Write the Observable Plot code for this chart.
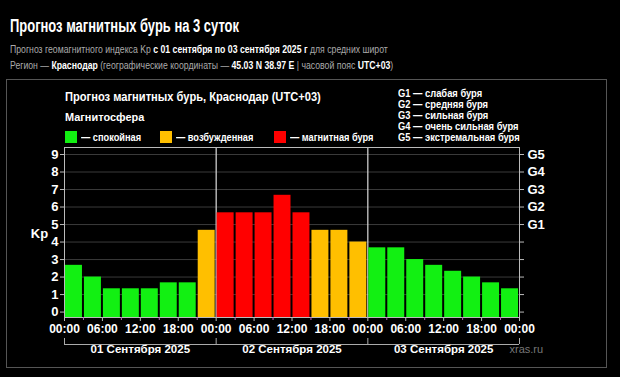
<!DOCTYPE html>
<html><head><meta charset="utf-8">
<script src="https://cdn.jsdelivr.net/npm/d3@7"></script>
<script src="https://cdn.jsdelivr.net/npm/@observablehq/plot@0.6"></script>
<style>
html,body{margin:0;padding:0;background:#000;width:620px;height:377px;overflow:hidden;}
#root{position:relative;width:620px;height:377px;font-family:"Liberation Sans",Arial,sans-serif;color:#fff;}
#title{position:absolute;left:10px;top:16px;font-size:18px;font-weight:bold;white-space:nowrap;transform:scaleX(0.72);transform-origin:left center;}
.sub{position:absolute;left:10px;font-size:11px;color:#aaa;white-space:nowrap;transform:scaleX(0.79);transform-origin:left center;}
.sub b{color:#fff}
#panel{position:absolute;left:6px;top:79px;width:601px;height:289px;border:1px solid #555;box-sizing:border-box;}
#ptitle{position:absolute;left:65px;top:90px;font-size:12.5px;font-weight:bold;white-space:nowrap;transform:scaleX(0.89);transform-origin:left center;}
#mag{position:absolute;left:65px;top:111px;font-size:11.5px;font-weight:bold;white-space:nowrap;transform:scaleX(0.95);transform-origin:left center;}
.leg{position:absolute;top:131px;font-size:11px;font-weight:bold;white-space:nowrap;display:flex;align-items:center;}
.leg i{display:inline-block;width:12px;height:12px;margin-right:4px;}
.leg span{display:inline-block;transform:scaleX(0.84);transform-origin:left center;}
#glegend{position:absolute;left:398px;top:88px;font-size:11px;font-weight:bold;line-height:11px;white-space:nowrap;transform:scaleX(0.85);transform-origin:left center;}
#chart{position:absolute;left:0;top:140px;}
</style></head>
<body><div id="root">
<div id="title">Прогноз магнитных бурь на 3 суток</div>
<div class="sub" style="top:43px">Прогноз геомагнитного индекса Kp <b>с 01 сентября по 03 сентября 2025 г</b> для средних широт</div>
<div class="sub" style="top:59px">Регион — <b>Краснодар</b> (географические координаты — <b>45.03 N 38.97 E</b> | часовой пояс <b>UTC+03</b>)</div>
<div id="panel"></div>
<div id="ptitle"></div>
<div id="mag"></div>
<div id="legend"></div>
<div id="glegend"></div>
<div id="chart"></div>
</div>
<script>
const kpValues = [2.67, 2, 1.33, 1.33, 1.33, 1.67, 1.67, 4.67,
                  5.67, 5.67, 5.67, 6.67, 5.67, 4.67, 4.67, 4,
                  3.67, 3.67, 3, 2.67, 2.33, 2, 1.67, 1.33];
const hourLabels = ["00:00", "06:00", "12:00", "18:00"];
const dayLabels = ["01 Сентября 2025", "02 Сентября 2025", "03 Сентября 2025"];
const levelNames = ["— спокойная", "— возбужденная", "— магнитная буря"];
const levelColors = ["#12f012", "#ffbf00", "#ff0000"];
const gLabels = ["G1", "G2", "G3", "G4", "G5"];
const gNames = ["G1 — слабая буря", "G2 — средняя буря", "G3 — сильная буря", "G4 — очень сильная буря", "G5 — экстремальная буря"];
const panelTitle = "Прогноз магнитных бурь, Краснодар (UTC+03)";
const magTitle = "Магнитосфера";

document.getElementById("ptitle").textContent = panelTitle;
document.getElementById("mag").textContent = magTitle;
const legLefts = [65, 160, 274];
const legend = document.getElementById("legend");
levelNames.forEach((n, i) => {
  const d = document.createElement("div");
  d.className = "leg";
  d.style.left = legLefts[i] + "px";
  d.innerHTML = `<i style="background:${levelColors[i]}"></i>`;
  const s = document.createElement("span");
  s.textContent = n;
  d.appendChild(s);
  legend.appendChild(d);
});
document.getElementById("glegend").innerHTML = gNames.map(s => `<div>${s}</div>`).join("");

const level = v => v >= 5 ? 2 : v >= 4 ? 1 : 0;
const data = kpValues.map((v, i) => ({x1: i * 3, x2: i * 3 + 3, kp: v, lvl: level(v)}));
const yMin = -0.31;
const hourTicks = d3.range(0, 73, 6);
const minorTicks = d3.range(3, 72, 6);

const chart = Plot.plot({
  width: 620, height: 230,
  marginTop: 7, marginBottom: 53, marginLeft: 64, marginRight: 101,
  style: {background: "transparent", color: "#fff", fontFamily: "Liberation Sans, Arial, sans-serif"},
  x: {domain: [0, 72]},
  y: {domain: [yMin, 9.4]},
  marks: [
    Plot.gridY({ticks: d3.range(1, 10), stroke: "#3a3a3a", strokeOpacity: 1}),
    Plot.ruleX([24, 48], {stroke: "#ddd", strokeWidth: 1.2}),
    Plot.rectY(data, {x1: "x1", x2: "x2", y1: yMin, y2: "kp", fill: d => levelColors[d.lvl], insetLeft: 1, insetRight: 1}),
    Plot.frame({stroke: "#bbb"}),
    Plot.axisY({ticks: d3.range(0, 10), tickSize: 4, tickPadding: 2, stroke: "#bbb", fill: "#fff", fontSize: 13, fontWeight: "bold", label: null}),
    Plot.axisY({anchor: "right", ticks: d3.range(0, 10), tickSize: 4, tickPadding: 4, stroke: "#bbb", fill: "#fff", fontSize: 13, fontWeight: "bold", label: null,
      tickFormat: d => d >= 5 ? gLabels[d - 5] : ""}),
    Plot.text(["Kp"], {frameAnchor: "left", textAnchor: "middle", dx: -25, dy: 1, fill: "#fff", fontSize: 13, fontWeight: "bold"}),
    Plot.axisX({ticks: hourTicks, tickSize: 4, tickPadding: 3, stroke: "#bbb", fill: "#fff", fontSize: 12, fontWeight: "bold", label: null,
      tickFormat: d => hourLabels[(d / 6) % 4]}),
    Plot.axisX({ticks: minorTicks, tickSize: 3, stroke: "#c060c0", tickFormat: () => "", label: null}),
    Plot.axisX({ticks: [0, 24, 48, 72], tickSize: 6, dy: 21, stroke: "#aaa", tickFormat: () => "", label: null}),
    Plot.ruleY([yMin], {x1: 0, x2: 72, dy: 27, stroke: "#aaa"}),
    Plot.text(dayLabels, {x: [12, 36, 60], frameAnchor: "bottom", dy: 35, fill: "#fff", fontSize: 11.5, fontWeight: "bold"}),
    Plot.text(["xras.ru"], {frameAnchor: "bottom-right", dx: -10, dy: 35, textAnchor: "start", fill: "#777", fontSize: 11})
  ]
});
document.getElementById("chart").appendChild(chart);
</script>
</body></html>
